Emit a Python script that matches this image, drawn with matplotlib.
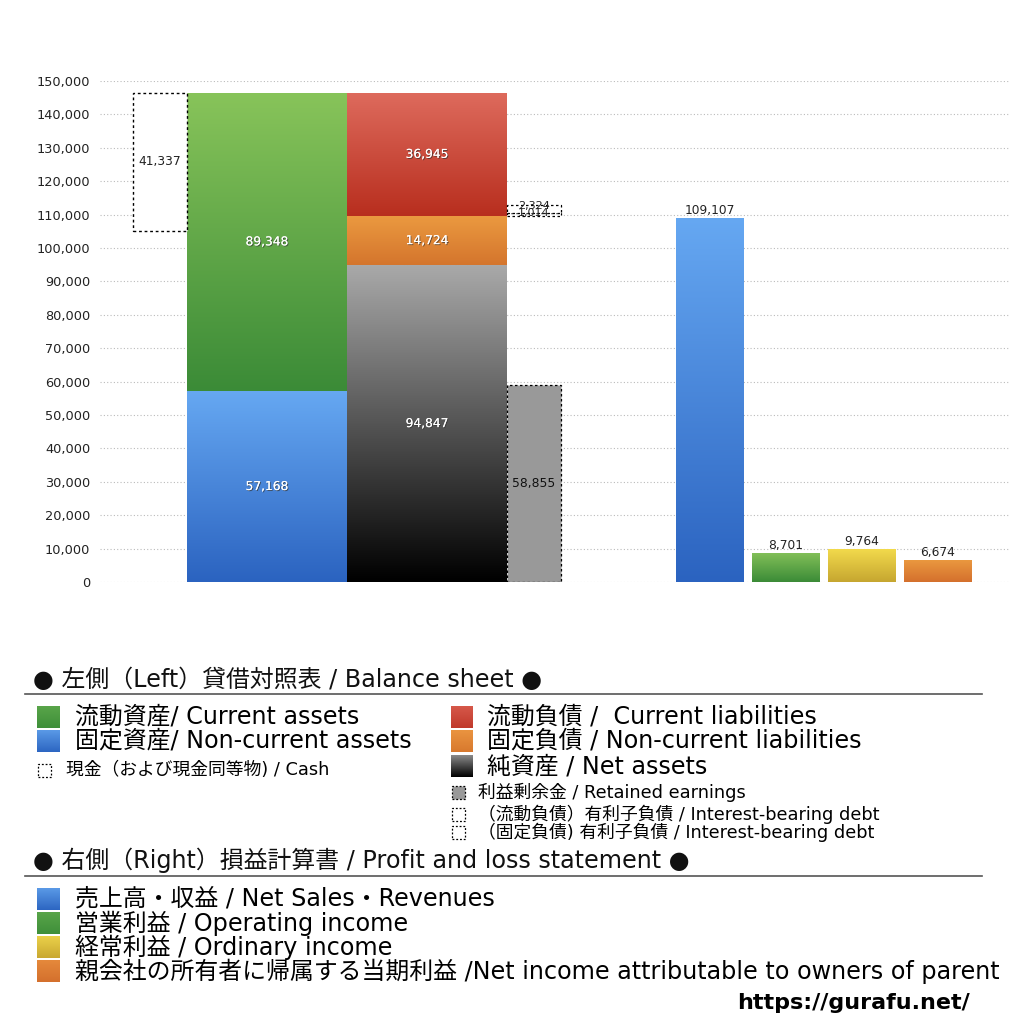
import numpy as np
import matplotlib
matplotlib.use("Agg")
import matplotlib.pyplot as plt
from matplotlib.colors import to_rgb
from matplotlib.patches import Rectangle
import matplotlib.patheffects as pe
from matplotlib.ticker import FuncFormatter, MultipleLocator

plt.rcParams['font.family'] = ['DejaVu Sans', 'Noto Sans CJK JP']

# ---------------- data ----------------
current_assets = 89348
noncurrent_assets = 57168
cash = 41337
current_liabilities = 36945
noncurrent_liabilities = 14724
net_assets = 94847
retained_earnings = 58855
debt_current = 2324
debt_noncurrent = 1014
pl_labels = ["売上高・収益", "営業利益", "経常利益", "親会社の所有者に帰属する当期利益"]
pl_values = [109107, 8701, 9764, 6674]

bs_legend_left = ["流動資産/ Current assets", "固定資産/ Non-current assets"]
bs_legend_right = ["流動負債 /  Current liabilities", "固定負債 / Non-current liabilities", "純資産 / Net assets"]
pl_legend = ["売上高・収益 / Net Sales・Revenues", "営業利益 / Operating income",
             "経常利益 / Ordinary income",
             "親会社の所有者に帰属する当期利益 /Net income attributable to owners of parent"]

# ---------------- layout ----------------
W = 1024
fig = plt.figure(figsize=(10.24, 10.24), dpi=100)
ax = fig.add_axes([100 / W, 1 - 582 / W, 910 / W, 501 / W])
XL = (100, 1010)

def grad(ax, patch, top, bottom, z=2):
    x0, y0 = patch.get_xy()
    w, h = patch.get_width(), patch.get_height()
    t = np.array(to_rgb(top)); b = np.array(to_rgb(bottom))
    f = np.linspace(0, 1, 256)[:, None]
    img = (t[None, :] * (1 - f) + b[None, :] * f)[:, None, :]
    im = ax.imshow(img, extent=[x0, x0 + w, y0, y0 + h], aspect='auto',
                   origin='upper', zorder=z, interpolation='bilinear')
    im.set_clip_path(patch)

shadow = [pe.withSimplePatchShadow(offset=(0.7, -0.7), shadow_rgbFace='#333333', alpha=0.7), pe.Normal()]
vfs = 8.8

# cash dashed box
total_assets = current_assets + noncurrent_assets
cx, cw = 160, 54
ax.bar(cx, cash, cw, bottom=total_assets - cash, facecolor='white', edgecolor='black',
       linestyle=(0, (2, 2)), linewidth=1.0, zorder=3)
ax.text(cx, total_assets - cash / 2, f"{cash:,}", ha='center', va='center', fontsize=vfs, color='#222222', zorder=5)

# assets
ax_x, bw = 267, 160
p = ax.bar(ax_x, noncurrent_assets, bw, color='none', zorder=2)[0]
grad(ax, p, '#66a8f2', '#2b63c0')
ax.text(ax_x, noncurrent_assets / 2, f"{noncurrent_assets:,}", ha='center', va='center', fontsize=vfs, color='white', zorder=5, path_effects=shadow)
p = ax.bar(ax_x, current_assets, bw, bottom=noncurrent_assets, color='none', zorder=2)[0]
grad(ax, p, '#88c45a', '#3b8b37')
ax.text(ax_x, noncurrent_assets + current_assets / 2, f"{current_assets:,}", ha='center', va='center', fontsize=vfs, color='white', zorder=5, path_effects=shadow)

# liabilities + net assets
lx = 427
p = ax.bar(lx, net_assets, bw, color='none', zorder=2)[0]
grad(ax, p, '#a9a9a9', '#000000')
ax.text(lx, net_assets / 2, f"{net_assets:,}", ha='center', va='center', fontsize=vfs, color='white', zorder=5, path_effects=shadow)
p = ax.bar(lx, noncurrent_liabilities, bw, bottom=net_assets, color='none', zorder=2)[0]
grad(ax, p, '#eb9a40', '#d4752d')
ax.text(lx, net_assets + noncurrent_liabilities / 2, f"{noncurrent_liabilities:,}", ha='center', va='center', fontsize=vfs, color='white', zorder=5, path_effects=shadow)
base = net_assets + noncurrent_liabilities
p = ax.bar(lx, current_liabilities, bw, bottom=base, color='none', zorder=2)[0]
grad(ax, p, '#de6b5d', '#b82e1e')
ax.text(lx, base + current_liabilities / 2, f"{current_liabilities:,}", ha='center', va='center', fontsize=vfs, color='white', zorder=5, path_effects=shadow)

# retained earnings + interest-bearing debt
rx, rw = 534, 54
ax.bar(rx, retained_earnings, rw, facecolor='#999999', edgecolor='black', linestyle=(0, (2, 2)), linewidth=0.9, zorder=3)
ax.text(rx, retained_earnings / 2, f"{retained_earnings:,}", ha='center', va='center', fontsize=vfs, color='#111111', zorder=5)
ax.bar(rx, debt_noncurrent, rw, bottom=base, facecolor='white', edgecolor='black', linestyle=(0, (2, 2)), linewidth=0.9, zorder=3)
ax.bar(rx, debt_current, rw, bottom=base + debt_noncurrent, facecolor='white', edgecolor='black', linestyle=(0, (2, 2)), linewidth=0.9, zorder=3)
ax.text(rx, base + debt_noncurrent + debt_current / 2 + 900, f"{debt_current:,}", ha='center', va='center', fontsize=8, color='#222222', zorder=5)
ax.text(rx, base + debt_noncurrent / 2 + 300, f"{debt_noncurrent:,}", ha='center', va='center', fontsize=8, color='#222222', zorder=5)

# P&L bars
pl_x = [710, 785.5, 861.5, 937.5]
pw = 68
pl_cols = [('#66a8f2', '#2b63c0'), ('#84c159', '#3b8b37'), ('#f2da4c', '#c6a630'), ('#eb9a40', '#d4702d')]
for x, v, (ct, cb) in zip(pl_x, pl_values, pl_cols):
    p = ax.bar(x, v, pw, color='none', zorder=2)[0]
    grad(ax, p, ct, cb)
    ax.text(x, v + 300, f"{v:,}", ha='center', va='bottom', fontsize=vfs, color='#222222', zorder=5)

ax.set_xlim(*XL)
ax.set_ylim(0, 150000)
ax.yaxis.set_major_locator(MultipleLocator(10000))
ax.yaxis.set_major_formatter(FuncFormatter(lambda v, _: f"{int(v):,}"))
ax.tick_params(axis='y', length=0, pad=7, labelsize=9.3, labelcolor='#222222')
ax.tick_params(axis='x', length=0, labelbottom=False)
ax.grid(axis='y', linestyle=(0, (1, 2)), color='#bbbbbb', linewidth=0.8, zorder=0)
ax.set_axisbelow(True)
for s in ax.spines.values():
    s.set_visible(False)

# ---------------- legend area ----------------
def fy(py):
    return 1 - py / W

def fx(px):
    return px / W

def sq(px, py, size, top=None, bottom=None, face=None, dashed=False):
    a = fig.add_axes([fx(px), fy(py + size / 2), size / W, size / W])
    a.set_xlim(0, 1); a.set_ylim(0, 1); a.axis('off')
    if top is not None:
        f = np.linspace(0, 1, 64)[:, None]
        t = np.array(to_rgb(top)); bt = np.array(to_rgb(bottom))
        img = (t[None, :] * (1 - f) + bt[None, :] * f)[:, None, :]
        a.imshow(img, extent=[0, 1, 0, 1], aspect='auto', origin='upper')
    r = Rectangle((0, 0), 1, 1, facecolor=face if face else 'none',
                  edgecolor='black' if dashed else 'none', linestyle=(0, (1.5, 1.5)), linewidth=0.9,
                  transform=a.transAxes, clip_on=False)
    a.add_patch(r)

hfs = 17.2
fig.text(fx(33), fy(680), "● 左側（Left）貸借対照表 / Balance sheet ●", fontsize=hfs, va='center', ha='left', color='#111111')
fig.add_artist(plt.Line2D([fx(25), fx(982)], [fy(694), fy(694)], color='#555555', linewidth=1.2))

lfs = 17.2
sfs = 12.8
sq(37, 717, 23, '#5aa64a', '#3f8f3a')
fig.text(fx(75), fy(717), bs_legend_left[0], fontsize=lfs, va='center', ha='left')
sq(37, 741, 23, '#5c9ce8', '#2d66c2')
fig.text(fx(75), fy(741), bs_legend_left[1], fontsize=lfs, va='center', ha='left')
sq(38, 770, 13, dashed=True, face='white')
fig.text(fx(66), fy(770), "現金（および現金同等物) / Cash", fontsize=sfs, va='center', ha='left')

sq(451, 717, 22, '#d6584a', '#c0392b')
fig.text(fx(487), fy(717), bs_legend_right[0], fontsize=lfs, va='center', ha='left')
sq(451, 741, 22, '#ea9440', '#d8792e')
fig.text(fx(487), fy(741), bs_legend_right[1], fontsize=lfs, va='center', ha='left')
sq(451, 766, 22, '#8a8a8a', '#000000')
fig.text(fx(487), fy(766), bs_legend_right[2], fontsize=lfs, va='center', ha='left')
sq(452, 792, 13, face='#999999', dashed=True)
fig.text(fx(478), fy(792), "利益剰余金 / Retained earnings", fontsize=sfs, va='center', ha='left')
sq(452, 814, 13, face='white', dashed=True)
fig.text(fx(478), fy(814), "（流動負債）有利子負債 / Interest-bearing debt", fontsize=sfs, va='center', ha='left')
sq(452, 832, 13, face='white', dashed=True)
fig.text(fx(478), fy(832), "（固定負債) 有利子負債 / Interest-bearing debt", fontsize=sfs, va='center', ha='left')

fig.text(fx(33), fy(860), "● 右側（Right）損益計算書 / Profit and loss statement ●", fontsize=hfs, va='center', ha='left', color='#111111')
fig.add_artist(plt.Line2D([fx(25), fx(982)], [fy(876), fy(876)], color='#555555', linewidth=1.2))

pl_sq = [('#5c9ce8', '#2d66c2'), ('#5aa64a', '#3f8f3a'), ('#ecd34a', '#c9a832'), ('#e68a3c', '#d4702d')]
for i, (txt, (ct, cb)) in enumerate(zip(pl_legend, pl_sq)):
    y = 899 + 24 * i
    sq(37, y, 23, ct, cb)
    fig.text(fx(75), fy(y), txt, fontsize=lfs, va='center', ha='left')

fig.text(fx(970), fy(1003), "https://gurafu.net/", fontsize=16, fontweight='bold', va='center', ha='right',
         family=['DejaVu Sans'])

fig.savefig("out.png", dpi=100)
